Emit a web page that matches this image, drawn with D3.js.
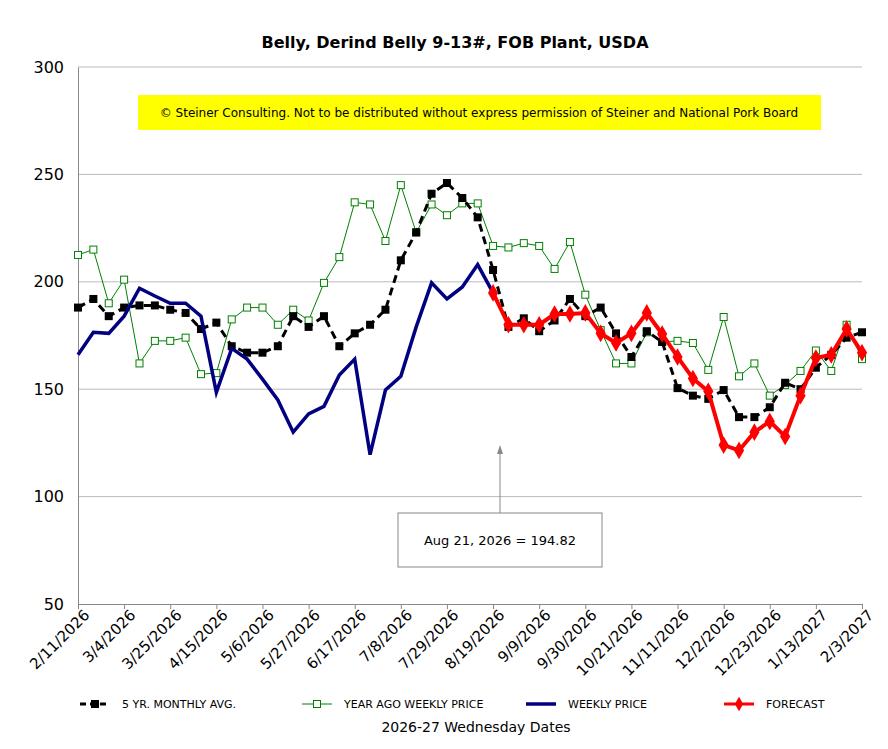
<!DOCTYPE html>
<html><head><meta charset="utf-8">
<script src="https://cdn.jsdelivr.net/npm/d3@7"></script>
<style>body{margin:0;background:#fff}text{font-family:Tahoma,"DejaVu Sans",Verdana,sans-serif}</style>
</head><body><svg id="c" width="888" height="749"></svg>
<script>
const tickLabels=["2/11/2026","3/4/2026","3/25/2026","4/15/2026","5/6/2026","5/27/2026","6/17/2026","7/8/2026","7/29/2026","8/19/2026","9/9/2026","9/30/2026","10/21/2026","11/11/2026","12/2/2026","12/23/2026","1/13/2027","2/3/2027"];
const fiveYr=[188,192,184,188,189,189,187,185.5,178,181,170,167,167,170,184,179,184,170,176,180,187,210,223,241,246,239,230,205.5,179,183,177,182,192,184,188,176,165,177,172,150.5,147,145.5,149.6,137,137,141.6,153,150,160,166,174,176.5];
const yearAgo=[212.5,215,190,201,162,172.5,172.5,174,157,157.5,182.5,188,188,180,187,182,199.5,211.5,237,236,219,245,223,236,231,236.5,236.5,216.7,216,218,216.7,206,218.5,194,177.5,162,162,176.5,172,172.5,171.5,159,183.6,156,162,147,152,158.5,168,158.5,180,164];
const weekly=[166,176.5,176,184,197,193.4,190,190,184,148.5,169,164,154.7,145,130,138.5,142,156.6,164,119.5,149.6,156,179,199.5,192,197.6,208,194.82];
const forecast=[194.82,180,180,180,185,185,185.5,176,171.5,176,185.5,175.7,165,155,149,124,121.5,130,135,128,147,164.5,166,178,167];
const forecastStart=27;
const yTicks=[50,100,150,200,250,300];

const svg=d3.select("#c");
const L=78,R=862,T=67,B=604;
const x=d3.scaleLinear().domain([0,51]).range([L,R]);
const y=d3.scaleLinear().domain([50,300]).range([B,T]);

svg.append("text").attr("x",455).attr("y",48).attr("text-anchor","middle").attr("font-weight","bold").attr("font-size",16).text("Belly, Derind Belly 9-13#, FOB Plant, USDA");

svg.append("g").selectAll("line").data(yTicks.slice(1)).join("line")
 .attr("x1",L).attr("x2",R).attr("y1",d=>y(d)).attr("y2",d=>y(d)).attr("stroke","#bbb");
svg.append("g").attr("transform",`translate(${L},0)`).call(d3.axisLeft(y).tickValues(yTicks).tickSize(0).tickPadding(14))
 .call(g=>g.select(".domain").attr("stroke","#888")).selectAll("text").attr("font-size",16).attr("font-family","Tahoma,DejaVu Sans,sans-serif").attr("fill","#000");
const xa=svg.append("g").attr("transform",`translate(0,${B})`).call(d3.axisBottom(x).tickValues(d3.range(0,52,3)).tickSize(5).tickFormat((d,i)=>tickLabels[i]));
xa.select(".domain").attr("stroke","#888");xa.selectAll("line").attr("stroke","#888");
xa.selectAll("text").attr("font-size",15).attr("fill","#000").attr("text-anchor","end").attr("font-family","Tahoma,DejaVu Sans,sans-serif")
 .attr("transform","translate(4,4) rotate(-45)").attr("dx",0).attr("dy","0.35em").attr("y",6);

svg.append("rect").attr("x",138).attr("y",95).attr("width",683).attr("height",35).attr("fill","#ffff00");
svg.append("text").attr("x",479).attr("y",117).attr("text-anchor","middle").attr("font-size",12).text("© Steiner Consulting.  Not to be distributed without express permission  of Steiner and National Pork Board");

const line=d3.line().x(d=>x(d[0])).y(d=>y(d[1]));
const ya=yearAgo.map((v,i)=>[i,v]), fy=fiveYr.map((v,i)=>[i,v]), wk=weekly.map((v,i)=>[i,v]), fc=forecast.map((v,i)=>[i+forecastStart,v]);
svg.append("path").attr("d",line(ya)).attr("fill","none").attr("stroke","#008000").attr("stroke-width",1);
svg.append("g").selectAll("rect").data(ya).join("rect").attr("x",d=>x(d[0])-3.5).attr("y",d=>y(d[1])-3.5).attr("width",7).attr("height",7).attr("fill","#fff").attr("stroke","#008000");
svg.append("path").attr("d",line(fy)).attr("fill","none").attr("stroke","#000").attr("stroke-width",3).attr("stroke-dasharray","8,5");
svg.append("g").selectAll("rect").data(fy).join("rect").attr("x",d=>x(d[0])-4).attr("y",d=>y(d[1])-4).attr("width",8).attr("height",8).attr("fill","#000");
svg.append("path").attr("d",line(wk)).attr("fill","none").attr("stroke","#000080").attr("stroke-width",3.5);
svg.append("path").attr("d",line(fc)).attr("fill","none").attr("stroke","#ff0000").attr("stroke-width",4);
svg.append("g").selectAll("path").data(fc).join("path").attr("d",d3.symbol(d3.symbolDiamond,90)).attr("transform",d=>`translate(${x(d[0])},${y(d[1])})`).attr("fill","#ff0000");

svg.append("line").attr("x1",500).attr("x2",500).attr("y1",513).attr("y2",450).attr("stroke","#888");
svg.append("path").attr("d","M500,445 L497,454 L503,454 Z").attr("fill","#888");
svg.append("rect").attr("x",398).attr("y",513).attr("width",204).attr("height",54).attr("fill","#fff").attr("stroke","#888");
svg.append("text").attr("x",500).attr("y",545).attr("text-anchor","middle").attr("font-size",13).text("Aug 21, 2026  =  194.82");

const lg=svg.append("g").attr("font-size",11);
function item(x0,label,draw){const g=lg.append("g").attr("transform",`translate(${x0},704)`);draw(g);g.append("text").attr("x",42).attr("y",4).text(label);}
item(80,"5 YR. MONTHLY AVG.",g=>{g.append("line").attr("x1",0).attr("x2",30).attr("stroke","#000").attr("stroke-width",3).attr("stroke-dasharray","6,4");g.append("rect").attr("x",11).attr("y",-4).attr("width",8).attr("height",8);});
item(302,"YEAR AGO WEEKLY PRICE",g=>{g.append("line").attr("x1",0).attr("x2",30).attr("stroke","#008000");g.append("rect").attr("x",11.5).attr("y",-3.5).attr("width",7).attr("height",7).attr("fill","#fff").attr("stroke","#008000");});
item(526,"WEEKLY PRICE",g=>{g.append("line").attr("x1",0).attr("x2",30).attr("stroke","#000080").attr("stroke-width",3.5);});
item(724,"FORECAST",g=>{g.append("line").attr("x1",0).attr("x2",30).attr("stroke","#f00").attr("stroke-width",3);g.append("path").attr("d",d3.symbol(d3.symbolDiamond,60)).attr("transform","translate(15,0)").attr("fill","#f00");});
svg.append("text").attr("x",476).attr("y",732).attr("text-anchor","middle").attr("font-size",14).text("2026-27 Wednesday Dates");
</script></body></html>
